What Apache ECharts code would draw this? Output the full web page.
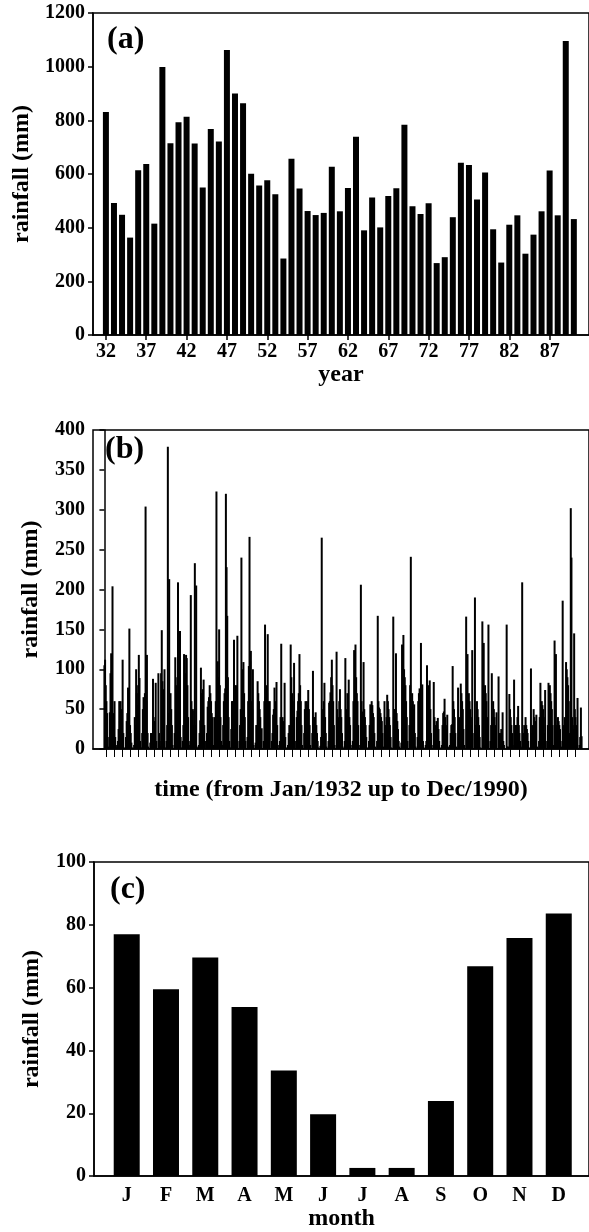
<!DOCTYPE html>
<html>
<head>
<meta charset="utf-8">
<script src="https://cdn.jsdelivr.net/npm/echarts@6/dist/echarts.min.js"></script>
<style>
  html, body { margin: 0; padding: 0; background: #fff; }
  #main { width: 589px; height: 1232px; }
</style>
</head>
<body>
<div id="main"></div>
<script>
// (a) annual rainfall, 1932-1990
const annualRain = [831, 492, 448, 363, 614, 637, 415, 999, 715, 793,
    813, 714, 550, 768, 721, 1062, 900, 864, 601, 557,
    577, 525, 285, 657, 546, 462, 447, 455, 627, 461,
    548, 739, 390, 512, 401, 518, 547, 784, 480, 451,
    491, 268, 290, 439, 642, 634, 505, 606, 394, 270,
    411, 446, 303, 374, 461, 613, 446, 1096, 432]
const yearTicks = [1932, 1937, 1942, 1947, 1952, 1957, 1962, 1967, 1972, 1977, 1982, 1987]
const yearTickLabels = ['32', '37', '42', '47', '52', '57', '62', '67', '72', '77', '82', '87']

// (b) monthly rainfall, one row per year (Jan..Dec)
const rain1930s = [
    [105, 112, 80, 60, 45, 15, 3, 2, 46, 95, 120, 98],      // 1932
    [204, 45, 30, 60, 15, 5, 0, 3, 10, 25, 60, 35],
    [60, 40, 50, 112, 20, 2, 0, 0, 15, 35, 45, 77],
    [40, 151, 30, 20, 8, 2, 0, 0, 5, 40, 30, 100],
    [70, 55, 80, 118, 89, 10, 0, 2, 20, 50, 65, 60],
    [70, 304, 60, 118, 20, 3, 0, 0, 8, 20, 20, 15],
    [88, 40, 35, 30, 83, 10, 0, 0, 95, 20, 10, 4],
    [95, 149, 85, 75, 25, 100, 2, 0, 10, 30, 379, 45]      // 1939
]
const rain1940s = [
    [213, 60, 70, 50, 30, 5, 0, 0, 20, 115, 80, 70],
    [90, 209, 95, 60, 148, 15, 0, 2, 10, 30, 119, 15],
    [95, 118, 114, 80, 40, 10, 0, 5, 193, 60, 50, 48],
    [30, 50, 233, 30, 205, 3, 0, 0, 5, 20, 36, 102],
    [70, 60, 75, 87, 30, 10, 0, 0, 20, 53, 60, 65],
    [80, 70, 60, 45, 40, 5, 0, 40, 30, 60, 323, 15],
    [110, 90, 150, 80, 40, 10, 0, 5, 30, 60, 70, 76],
    [320, 228, 167, 90, 40, 10, 0, 2, 25, 60, 60, 60],
    [137, 80, 70, 80, 60, 142, 0, 0, 10, 30, 50, 240],
    [90, 100, 109, 70, 40, 10, 0, 0, 15, 60, 104, 266]
]
const rain1950s = [
    [110, 123, 60, 50, 100, 5, 0, 0, 8, 30, 30, 85],
    [70, 60, 50, 40, 20, 26, 0, 0, 10, 60, 156, 65],
    [80, 70, 144, 60, 40, 60, 0, 0, 10, 20, 43, 50],
    [77, 60, 50, 84, 30, 5, 0, 0, 10, 40, 132, 37],
    [40, 30, 35, 83, 15, 2, 0, 0, 5, 20, 30, 25],
    [131, 90, 70, 60, 40, 108, 0, 0, 10, 40, 48, 60],
    [70, 119, 80, 60, 30, 5, 0, 0, 20, 50, 60, 52],
    [60, 55, 74, 50, 30, 5, 0, 0, 20, 98, 40, 30],
    [40, 46, 30, 20, 10, 2, 0, 0, 4, 15, 265, 15],
    [50, 60, 83, 40, 20, 3, 0, 0, 10, 58, 60, 71]
]
const rain1960s = [
    [90, 112, 80, 60, 30, 5, 0, 0, 122, 50, 40, 38],
    [60, 75, 50, 40, 20, 3, 0, 0, 10, 114, 50, 39],
    [70, 60, 87, 40, 30, 5, 0, 0, 10, 60, 124, 62],
    [131, 90, 70, 60, 30, 5, 0, 0, 206, 60, 47, 40],
    [109, 50, 40, 30, 15, 2, 0, 0, 10, 30, 56, 48],
    [60, 55, 45, 40, 20, 3, 0, 0, 10, 167, 60, 52],
    [50, 45, 40, 35, 20, 3, 0, 60, 10, 30, 40, 68],
    [60, 50, 40, 30, 15, 2, 0, 0, 166, 40, 50, 50],
    [120, 45, 35, 25, 10, 3, 0, 0, 8, 131, 27, 143],
    [100, 90, 80, 60, 40, 10, 0, 0, 30, 80, 241, 53]
]
const rain1970s = [
    [70, 60, 50, 56, 20, 3, 0, 0, 15, 60, 70, 76],
    [55, 133, 40, 81, 10, 2, 0, 0, 5, 10, 105, 10],
    [80, 70, 86, 50, 20, 5, 0, 0, 84, 40, 30, 26],
    [35, 30, 39, 25, 10, 2, 0, 0, 5, 30, 45, 47],
    [63, 40, 30, 25, 43, 3, 0, 0, 5, 20, 30, 31],
    [104, 60, 50, 40, 20, 3, 0, 0, 77, 15, 40, 30],
    [82, 70, 60, 50, 25, 5, 0, 0, 166, 30, 119, 35],
    [70, 60, 50, 40, 30, 124, 0, 0, 20, 190, 30, 20],
    [60, 50, 40, 30, 15, 2, 0, 0, 160, 10, 133, 5],
    [80, 70, 60, 40, 25, 156, 0, 0, 10, 30, 95, 40]
]
const rain1980s = [
    [60, 50, 40, 30, 20, 46, 0, 0, 91, 20, 20, 17],
    [25, 20, 46, 10, 5, 0, 0, 0, 156, 3, 3, 2],
    [69, 50, 40, 30, 20, 5, 0, 87, 20, 30, 30, 30],
    [40, 54, 30, 20, 10, 3, 0, 209, 10, 20, 30, 20],
    [40, 30, 25, 20, 10, 2, 0, 0, 101, 20, 30, 25],
    [50, 40, 35, 30, 43, 3, 0, 0, 10, 40, 83, 40],
    [60, 55, 50, 40, 20, 74, 0, 0, 10, 30, 83, 39],
    [80, 70, 60, 50, 30, 5, 0, 136, 15, 119, 30, 18],
    [40, 35, 30, 25, 10, 3, 0, 186, 10, 30, 40, 37],
    [109, 100, 90, 80, 60, 20, 0, 302, 240, 40, 30, 25],
    [145, 50, 40, 30, 15, 64, 0, 0, 5, 15, 52, 16]        // 1990
]

// (c) mean monthly rainfall
const monthLetters = ['J', 'F', 'M', 'A', 'M', 'J', 'J', 'A', 'S', 'O', 'N', 'D']
const monthMean = [77, 59.5, 69.6, 53.8, 33.6, 19.7, 2.6, 2.6, 23.9, 66.8, 75.8, 83.6]

const font = '"Liberation Serif", "Times New Roman", serif'
const black = '#000'

const years = []
for (let y = 1932; y <= 1990; y++) years.push(y)
const annualData = years.map((y, i) => [y, annualRain[i]])

const allMonths = [].concat(rain1930s, rain1940s, rain1950s, rain1960s, rain1970s, rain1980s)
let monthlyData = []
allMonths.forEach((row, k) => {
    row.forEach((v, j) => monthlyData.push([k * 12 + j, v]))
})
// one tick per year
const yearStartTicks = years.map((y, k) => k * 12 + 2)

const meanData = monthMean.map((v, i) => [i + 1, v])
const monthPos = monthLetters.map((m, i) => i + 1)

const lineStyle = {color: black, width: 1.5}
const labelStyle = {color: black, fontFamily: font, fontWeight: 'bold', fontSize: 20}
const nameStyle = {color: black, fontFamily: font, fontWeight: 'bold', fontSize: 24}

function yAxis(idx, max, interval, gap) {
    return {
        gridIndex: idx,
        type: 'value',
        min: 0,
        max: max,
        interval: interval,
        axisLine: {show: true, lineStyle: lineStyle},
        axisTick: {show: true, length: 5, lineStyle: lineStyle},
        axisLabel: Object.assign({margin: 8, formatter: (v) => String(v)}, labelStyle),
        splitLine: {show: false},
        name: 'rainfall (mm)',
        nameLocation: 'middle',
        nameGap: gap,
        nameTextStyle: nameStyle
    }
}

// right edge pushed past the canvas so no right border shows
const gridBase = {show: true, borderColor: black, borderWidth: 1.5, backgroundColor: 'transparent'}

const chart = echarts.init(document.getElementById('main'))
chart.setOption({
    animation: false,
    backgroundColor: '#fff',
    grid: [
        Object.assign({left: 93, top: 13, width: 500, height: 322}, gridBase),
        Object.assign({left: 93, top: 430, width: 500, height: 319}, gridBase),
        Object.assign({left: 94, top: 862, width: 499, height: 319}, gridBase)
    ],
    xAxis: [
        {
            gridIndex: 0,
            type: 'value',
            min: 1930.4,
            max: 1991.88,
            axisLine: {onZero: false, lineStyle: lineStyle},
            axisTick: {customValues: yearTicks, length: 5, lineStyle: lineStyle},
            axisLabel: Object.assign({
                customValues: yearTicks,
                margin: 7,
                formatter: (v) => yearTickLabels[yearTicks.indexOf(v)]
            }, labelStyle),
            splitLine: {show: false},
            name: 'year',
            nameLocation: 'middle',
            nameGap: 22,
            nameTextStyle: nameStyle
        },
        {
            gridIndex: 1,
            type: 'value',
            min: -16.9,
            max: 718,
            axisLine: {onZero: false, lineStyle: lineStyle},
            axisTick: {customValues: yearStartTicks, length: 8, lineStyle: {color: black, width: 1}},
            axisLabel: {show: false},
            splitLine: {show: false},
            name: 'time (from Jan/1932 up to Dec/1990)',
            nameLocation: 'middle',
            nameGap: 29,
            nameTextStyle: nameStyle
        },
        {
            gridIndex: 2,
            type: 'value',
            min: 0.167,
            max: 12.77,
            axisLine: {onZero: false, lineStyle: lineStyle},
            axisTick: {show: false},
            axisLabel: Object.assign({
                customValues: monthPos,
                margin: 10,
                formatter: (v) => monthLetters[v - 1]
            }, labelStyle),
            splitLine: {show: false},
            name: 'month',
            nameLocation: 'middle',
            nameGap: 30,
            nameTextStyle: nameStyle
        }
    ],
    yAxis: [
        yAxis(0, 1200, 200, 55),
        yAxis(1, 400, 50, 50),
        yAxis(2, 100, 20, 50)
    ],
    graphic: [
        {type: 'text', left: 107, top: 24, style: {text: '(a)', fill: black, font: 'bold 32px ' + font}},
        {type: 'text', left: 105, top: 434, style: {text: '(b)', fill: black, font: 'bold 32px ' + font}},
        {type: 'text', left: 110, top: 874, style: {text: '(c)', fill: black, font: 'bold 32px ' + font}}
    ],
    series: [
        {
            type: 'bar',
            xAxisIndex: 0,
            yAxisIndex: 0,
            data: annualData,
            barWidth: 6,
            itemStyle: {color: black}
        },
        {
            type: 'bar',
            xAxisIndex: 1,
            yAxisIndex: 1,
            data: monthlyData,
            barWidth: 2,
            itemStyle: {color: black}
        },
        {
            type: 'bar',
            xAxisIndex: 2,
            yAxisIndex: 2,
            data: meanData,
            barWidth: 26,
            itemStyle: {color: black}
        }
    ]
})
</script>
</body>
</html>
